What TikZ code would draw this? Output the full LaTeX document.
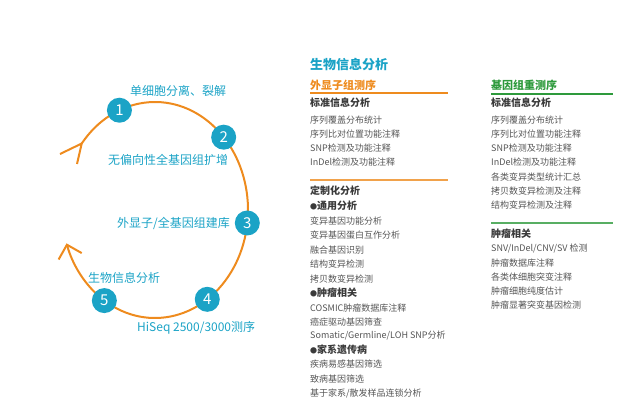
\documentclass[tikz,border=0pt]{standalone}
\usepackage{fontspec}
\setmainfont{Noto Sans CJK SC}
\usetikzlibrary{arrows.meta,calc}
\definecolor{teal1}{HTML}{1BA3C6}
\definecolor{orng}{HTML}{EE8B1E}
\definecolor{grn}{HTML}{2E9A3C}
\definecolor{txt}{HTML}{555555}
\definecolor{hd}{HTML}{3A3A3A}
\newcommand{\bulletdot}{{\fontsize{7}{7}\selectfont ●}}
\tikzset{
  num/.style={circle,fill=teal1,minimum size=25pt,inner sep=0pt,text=white,font=\fontsize{15}{15}\selectfont},
  steplabel/.style={inner sep=0pt,text=teal1,font=\fontsize{12}{12}\selectfont},
  item/.style={inner sep=0pt,anchor=west,text=txt,font=\fontsize{9}{9}\selectfont},
  subhd/.style={inner sep=0pt,anchor=west,text=hd,font=\fontsize{10}{10}\selectfont\bfseries},
  cyc/.style={orng,line width=2pt},
}
\begin{document}
\begin{tikzpicture}[x=1pt,y=-1pt]
\useasboundingbox (0,0) rectangle (635,405);
\coordinate (c) at (155,210);
% cycle
\draw[cyc,-{Straight Barb[length=12pt,width=24pt,line width=2pt]}]
  ($(c)+(218:93 and 108)$) coordinate (tl) arc[start angle=218,end angle=522,x radius=93,y radius=108] coordinate (bl);
\coordinate (tla) at (60,154);
\coordinate (tlb) at (77,164);
\draw[cyc] (tla) -- (tl) -- (tlb);
\node[num] (n1) at ($(c)+(247.5:93 and 108)$) {1};
\node[num] (n2) at ($(c)+(317.6:93 and 108)$) {2};
\node[num] (n3) at ($(c)+(366.9:93 and 108)$) {3};
\node[num] (n4) at ($(c)+(415.8:93 and 108)$) {4};
\node[num] (n5) at ($(c)+(483:93 and 108)$) {5};
\node[steplabel,anchor=west] (l1) at (130,91) {单细胞分离、裂解};
\node[steplabel,anchor=west] (l2) at (108,160) {无偏向性全基因组扩增};
\node[steplabel,anchor=east] (l3) at (230,223) {外显子/全基因组建库};
\node[steplabel,anchor=west] (l5) at (88,278) {生物信息分析};
\node[steplabel,anchor=west] (l4) at (137,328) {HiSeq 2500/3000测序};
% right panel
\node[inner sep=0pt,anchor=west,text=teal1,font=\fontsize{13}{13}\selectfont\bfseries] (h0) at (310,65) {生物信息分析};
\node[inner sep=0pt,anchor=west,text=orng,font=\fontsize{11}{11}\selectfont\bfseries] (h1) at (310,85) {外显子组测序};
\coordinate (o1a) at (310,93); \coordinate (o1b) at (448,93);
\draw[orng,line width=1.3pt] (o1a) -- (o1b);
\node[subhd] (s1) at (310,103) {标准信息分析};
\node[item] (a1) at (310,120) {序列覆盖分布统计};
\node[item] (a2) at (310,134) {序列比对位置功能注释};
\node[item] (a3) at (310,148) {SNP检测及功能注释};
\node[item] (a4) at (310,162) {InDel检测及功能注释};
\coordinate (o2a) at (310,180); \coordinate (o2b) at (448,180);
\draw[orng!80,line width=1.2pt] (o2a) -- (o2b);
\node[subhd] (s2) at (310,191) {定制化分析};
\node[subhd] (b1) at (310,206) {\bulletdot 通用分析};
\node[item] (c1) at (310,221) {变异基因功能分析};
\node[item] (c2) at (310,235) {变异基因蛋白互作分析};
\node[item] (c3) at (310,250) {融合基因识别};
\node[item] (c4) at (310,264) {结构变异检测};
\node[item] (c5) at (310,279) {拷贝数变异检测};
\node[subhd] (b2) at (310,293) {\bulletdot 肿瘤相关};
\node[item] (d1) at (310,308) {COSMIC肿瘤数据库注释};
\node[item] (d2) at (310,322) {癌症驱动基因筛查};
\node[item] (d3) at (310,336) {Somatic/Germline/LOH SNP分析};
\node[subhd] (b3) at (310,350) {\bulletdot 家系遗传病};
\node[item] (e1) at (310,364) {疾病易感基因筛选};
\node[item] (e2) at (310,379) {致病基因筛选};
\node[item] (e3) at (310,393) {基于家系/散发样品连锁分析};
% green column
\node[inner sep=0pt,anchor=west,text=grn,font=\fontsize{11}{11}\selectfont\bfseries] (g0) at (491,85) {基因组重测序};
\coordinate (g1a) at (491,94); \coordinate (g1b) at (613,94);
\draw[grn,line width=1.3pt] (g1a) -- (g1b);
\node[subhd] (gs1) at (491,103) {标准信息分析};
\node[item] (f1) at (491,120) {序列覆盖分布统计};
\node[item] (f2) at (491,134) {序列比对位置功能注释};
\node[item] (f3) at (491,148) {SNP检测及功能注释};
\node[item] (f4) at (491,162) {InDel检测及功能注释};
\node[item] (f5) at (491,177) {各类变异类型统计汇总};
\node[item] (f6) at (491,191) {拷贝数变异检测及注释};
\node[item] (f7) at (491,205) {结构变异检测及注释};
\coordinate (g2a) at (491,223); \coordinate (g2b) at (613,223);
\draw[grn!80,line width=1.2pt] (g2a) -- (g2b);
\node[subhd] (gs2) at (491,234) {肿瘤相关};
\node[item] (k1) at (491,248) {SNV/InDel/CNV/SV 检测};
\node[item] (k2) at (491,263) {肿瘤数据库注释};
\node[item] (k3) at (491,277) {各类体细胞突变注释};
\node[item] (k4) at (491,291) {肿瘤细胞纯度估计};
\node[item] (k5) at (491,305) {肿瘤显著突变基因检测};
\end{tikzpicture}
\end{document}
